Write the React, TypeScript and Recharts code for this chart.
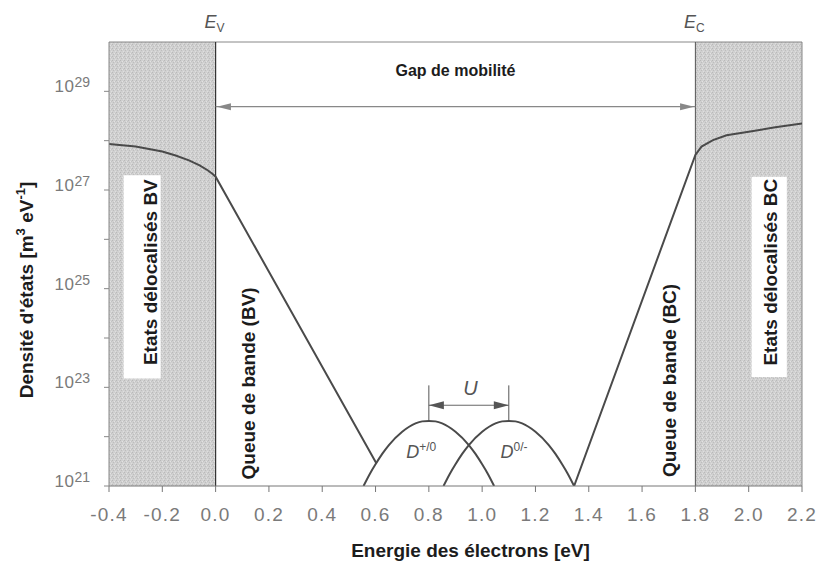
import React from 'react';
import {
  ComposedChart,
  Line,
  XAxis,
  YAxis,
  ReferenceArea,
  ReferenceLine,
  ReferenceDot,
} from 'recharts';

const FONT = '"Liberation Sans", Arial, Helvetica, sans-serif';

// x axis ticks (eV)
const X_TICKS = [-0.4, -0.2, 0, 0.2, 0.4, 0.6, 0.8, 1.0, 1.2, 1.4, 1.6, 1.8, 2.0, 2.2];
// y axis: decades (exponents of 10), labels only on odd ones
const Y_EXPONENTS = [21, 22, 23, 24, 25, 26, 27, 28, 29];
const Y_LABELLED = [21, 23, 25, 27, 29];

// Valence band (delocalised states + band tail), log10 of DOS
const vbEnergy = [-0.4, -0.3, -0.2, -0.15, -0.1, -0.06, -0.03, -0.01, 0, 0.603];
const vbLogDos = [27.93, 27.88, 27.78, 27.7, 27.6, 27.5, 27.4, 27.32, 27.27, 21.46];

// Defect level D+/0
const dPlusEnergy = [0.555, 0.58, 0.6, 0.625, 0.65, 0.7, 0.75, 0.775, 0.8, 0.825, 0.85, 0.9, 0.95, 0.975, 1.0, 1.02, 1.045];
const dPlusLogDos = [21.0, 21.26, 21.44, 21.65, 21.83, 22.1, 22.27, 22.31, 22.32, 22.31, 22.27, 22.1, 21.83, 21.65, 21.44, 21.26, 21.0];

// Defect level D0/-
const dMinusEnergy = [0.855, 0.88, 0.9, 0.925, 0.95, 1.0, 1.05, 1.075, 1.1, 1.125, 1.15, 1.2, 1.25, 1.275, 1.3, 1.32, 1.345];
const dMinusLogDos = [21.0, 21.26, 21.44, 21.65, 21.83, 22.1, 22.27, 22.31, 22.32, 22.31, 22.27, 22.1, 21.83, 21.65, 21.44, 21.26, 21.0];

// Conduction band (band tail + delocalised states)
const cbEnergy = [1.345, 1.8, 1.823, 1.866, 1.917, 2.0, 2.1, 2.2];
const cbLogDos = [21.0, 27.71, 27.88, 28.01, 28.11, 28.18, 28.27, 28.35];

const P = (e: number) => Math.pow(10, e);
const toRows = (xs: number[], ls: number[]) => xs.map((x, i) => ({ x, y: P(ls[i]) }));

const vbData = toRows(vbEnergy, vbLogDos);
const dPlusData = toRows(dPlusEnergy, dPlusLogDos);
const dMinusData = toRows(dMinusEnergy, dMinusLogDos);
const cbData = toRows(cbEnergy, cbLogDos);

const LINE = '#4a4a4a';
const TXT = '#1c1c1c';
const GRAYTXT = '#7a7a7a';
const SHADE = 'url(#grain) #cfcfcf';

const XTick = (props: any) => {
  const { x, y, payload } = props;
  return (
    <text
      x={x}
      y={y + 27}
      textAnchor="middle"
      fontFamily={FONT}
      fontSize={19}
      letterSpacing={1.2}
      fill={GRAYTXT}
    >
      {Number(payload.value).toFixed(1)}
    </text>
  );
};

const YTick = (props: any) => {
  const { x, y, payload } = props;
  const e = Math.round(Math.log10(payload.value));
  if (!Y_LABELLED.includes(e)) return <g />;
  return (
    <text x={x} y={y + 1} textAnchor="end" fontFamily={FONT} fill={GRAYTXT}>
      <tspan fontSize={17} letterSpacing={0.5}>10</tspan>
      <tspan fontSize={14} dy={-5}>{e}</tspan>
    </text>
  );
};

const XTitle = (props: any) => {
  const vb = props.viewBox || { x: 0, y: 0, width: 0, height: 0 };
  return (
    <text
      x={vb.x + vb.width / 2 + 15}
      y={vb.y + 71}
      textAnchor="middle"
      fontFamily={FONT}
      fontWeight="bold"
      fontSize={19}
      fill={TXT}
    >
      Energie des électrons [eV]
    </text>
  );
};

const YTitle = (props: any) => {
  const vb = props.viewBox || { x: 0, y: 0, width: 0, height: 0 };
  const cx = vb.x + 33;
  const cy = vb.y + vb.height / 2 + 26;
  return (
    <text
      x={cx}
      y={cy}
      transform={`rotate(-90, ${cx}, ${cy})`}
      textAnchor="middle"
      fontFamily={FONT}
      fontWeight="bold"
      fontSize={19}
      fill={TXT}
    >
      <tspan>Densité d'états [m</tspan>
      <tspan fontSize={13} dy={-8}>3</tspan>
      <tspan dy={8}> eV</tspan>
      <tspan fontSize={13} dy={-8}>-1</tspan>
      <tspan dy={8}>]</tspan>
    </text>
  );
};

const bandEdgeLabel = (sub: string) => (props: any) => {
  const vb = props.viewBox || { x: 0, y: 0 };
  return (
    <text x={vb.x - 1} y={vb.y - 14} textAnchor="middle" fontFamily={FONT} fill="#555">
      <tspan fontSize={18} fontStyle="italic">E</tspan>
      <tspan fontSize={12} dy={4}>{sub}</tspan>
    </text>
  );
};

const rotText = (text: string) => (p: any) => (
  <text
    x={p.cx}
    y={p.cy}
    transform={`rotate(-90, ${p.cx}, ${p.cy})`}
    textAnchor="middle"
    fontFamily={FONT}
    fontWeight="bold"
    fontSize={19}
    fill={TXT}
  >
    {text}
  </text>
);

const defectLabel = (sup: string) => (p: any) => (
  <text x={p.cx} y={p.cy} textAnchor="start" fontFamily={FONT} fill="#555">
    <tspan fontSize={18} fontStyle="italic">D</tspan>
    <tspan fontSize={12} dy={-7}>{sup}</tspan>
  </text>
);

const arrowHead = (dir: 'left' | 'right', len: number, half: number, color: string) => (p: any) => {
  const s = dir === 'left' ? 1 : -1;
  const pts = `${p.cx},${p.cy} ${p.cx + s * len},${p.cy - half} ${p.cx + s * len},${p.cy + half}`;
  return <polygon points={pts} fill={color} stroke="none" />;
};

const GAP_Y = P(28.69);
const U_Y = P(22.637);

export default function App() {
  return (
    <div style={{ position: 'absolute', left: 0, top: 0, width: 818, height: 562 }}>
      <ComposedChart width={818} height={562} margin={{ top: 42, right: 16, bottom: 0, left: 0 }}>
        <defs>
          <pattern id="grain" width="4" height="4" patternUnits="userSpaceOnUse">
            <rect width="4" height="4" fill="#d0d0d0" />
            <rect x="0" y="0" width="1" height="1" fill="#b9b9b9" />
            <rect x="2" y="1" width="1" height="1" fill="#e2e2e2" />
            <rect x="1" y="2" width="1" height="1" fill="#bdbdbd" />
            <rect x="3" y="3" width="1" height="1" fill="#dedede" />
            <rect x="3" y="1" width="1" height="1" fill="#c4c4c4" />
          </pattern>
        </defs>
        <ReferenceArea x1={-0.4} x2={0} y1={P(21)} y2={P(30)} fill={SHADE} fillOpacity={1} stroke="none" />
        <ReferenceArea x1={1.8} x2={2.2} y1={P(21)} y2={P(30)} fill={SHADE} fillOpacity={1} stroke="none" />
        <ReferenceArea x1={-0.345} x2={-0.206} y1={P(23.18)} y2={P(27.3)} fill="#ffffff" fillOpacity={1} stroke="none" />
        <ReferenceArea x1={2.011} x2={2.143} y1={P(23.21)} y2={P(27.27)} fill="#ffffff" fillOpacity={1} stroke="none" />

        <XAxis
          dataKey="x"
          type="number"
          domain={[-0.4, 2.2]}
          ticks={X_TICKS}
          interval={0}
          allowDataOverflow
          height={76}
          tickSize={6}
          tickMargin={2}
          stroke="#777"
          tick={<XTick />}
          label={XTitle}
        />
        <YAxis
          type="number"
          scale="log"
          domain={[P(21), P(30)]}
          ticks={Y_EXPONENTS.map(P)}
          interval={0}
          allowDataOverflow
          width={109}
          tickSize={5}
          tickMargin={14}
          stroke="#888"
          tick={<YTick />}
          label={YTitle}
        />

        <ReferenceLine y={P(30)} stroke="#888" strokeWidth={1} />
        <ReferenceLine x={2.2} stroke="#888" strokeWidth={1} />
        <ReferenceLine x={0} stroke="#333" strokeWidth={1.2} label={bandEdgeLabel('V')} />
        <ReferenceLine x={1.8} stroke="#555" strokeWidth={1} label={bandEdgeLabel('C')} />

        {/* mobility gap arrow */}
        <ReferenceLine segment={[{ x: 0, y: GAP_Y }, { x: 1.8, y: GAP_Y }]} stroke="#888" strokeWidth={1.2} />
        <ReferenceDot x={0.005} y={GAP_Y} r={0} shape={arrowHead('left', 14, 3.5, '#888')} />
        <ReferenceDot x={1.795} y={GAP_Y} r={0} shape={arrowHead('right', 14, 3.5, '#888')} />
        <ReferenceDot
          x={0.9}
          y={P(29.31)}
          r={0}
          shape={(p: any) => (
            <text x={p.cx} y={p.cy} textAnchor="middle" fontFamily={FONT} fontWeight="bold" fontSize={16} fill={TXT}>
              Gap de mobilité
            </text>
          )}
        />

        {/* U correlation energy */}
        <ReferenceLine segment={[{ x: 0.8, y: P(23.04) }, { x: 0.8, y: P(22.32) }]} stroke="#555" strokeWidth={1} />
        <ReferenceLine segment={[{ x: 1.1, y: P(23.04) }, { x: 1.1, y: P(22.32) }]} stroke="#555" strokeWidth={1} />
        <ReferenceLine segment={[{ x: 0.8, y: U_Y }, { x: 1.1, y: U_Y }]} stroke="#666" strokeWidth={1} />
        <ReferenceDot x={0.8} y={U_Y} r={0} shape={arrowHead('left', 15, 4, '#555')} />
        <ReferenceDot x={1.1} y={U_Y} r={0} shape={arrowHead('right', 15, 4, '#555')} />
        <ReferenceDot
          x={0.956}
          y={P(22.84)}
          r={0}
          shape={(p: any) => (
            <text x={p.cx} y={p.cy} textAnchor="middle" fontFamily={FONT} fontStyle="italic" fontSize={20} fill="#555">
              U
            </text>
          )}
        />

        <Line data={vbData} dataKey="y" type="linear" stroke={LINE} strokeWidth={2} dot={false} activeDot={false} isAnimationActive={false} />
        <Line data={dPlusData} dataKey="y" type="monotone" stroke={LINE} strokeWidth={2} dot={false} activeDot={false} isAnimationActive={false} />
        <Line data={dMinusData} dataKey="y" type="monotone" stroke={LINE} strokeWidth={2} dot={false} activeDot={false} isAnimationActive={false} />
        <Line data={cbData} dataKey="y" type="linear" stroke={LINE} strokeWidth={2} dot={false} activeDot={false} isAnimationActive={false} />

        <ReferenceDot x={0.715} y={P(21.56)} r={0} shape={defectLabel('+/0')} />
        <ReferenceDot x={1.069} y={P(21.56)} r={0} shape={defectLabel('0/-')} />

        <ReferenceDot x={-0.221} y={P(25.335)} r={0} shape={rotText('Etats délocalisés BV')} />
        <ReferenceDot x={2.106} y={P(25.335)} r={0} shape={rotText('Etats délocalisés BC')} />
        <ReferenceDot x={0.148} y={P(23.08)} r={0} shape={rotText('Queue de bande (BV)')} />
        <ReferenceDot x={1.727} y={P(23.14)} r={0} shape={rotText('Queue de bande (BC)')} />
      </ComposedChart>
    </div>
  );
}
